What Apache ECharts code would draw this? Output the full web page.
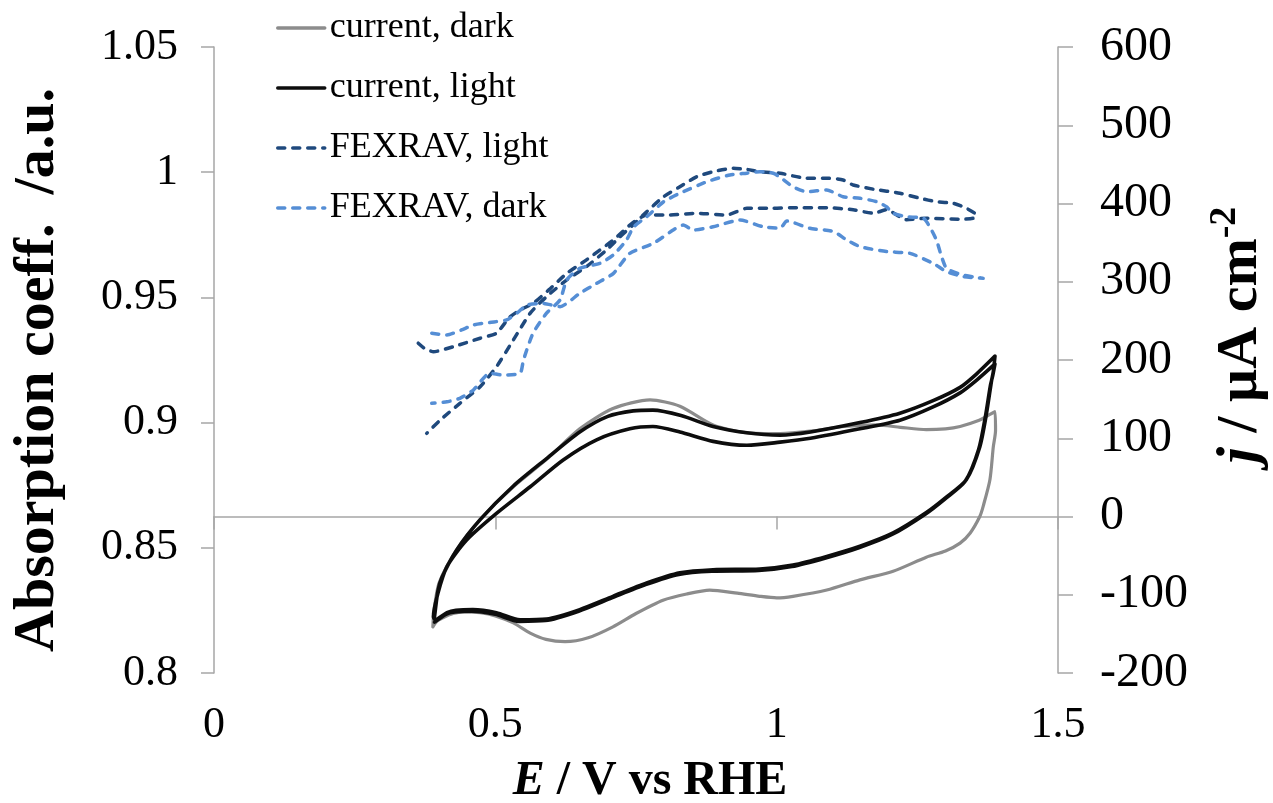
<!DOCTYPE html>
<html>
<head>
<meta charset="utf-8">
<script src="https://cdn.jsdelivr.net/npm/echarts@6/dist/echarts.min.js"></script>
<style>
  html, body { margin: 0; padding: 0; background: #fff; }
  #chart { width: 1273px; height: 803px; }
</style>
</head>
<body>
<div id="chart"></div>
<script>
// Potential (V vs RHE) / current density (µA cm^-2) loops
const currentDark = [
  [0.389,-141],[0.391,-120],[0.400,-85],[0.431,-43],[0.473,-4],[0.532,38],[0.591,73],
  [0.650,112],[0.709,138],[0.775,149],[0.828,141],[0.887,117],[0.947,107],[1.006,106],
  [1.060,109],[1.120,115],[1.178,117],[1.220,114],[1.266,111],[1.300,112],[1.326,115],
  [1.360,123],[1.373,128],[1.388,134],
  [1.389,110],[1.385,89],[1.379,47],[1.367,13],[1.361,0],[1.344,-21],[1.326,-34],
  [1.300,-44],[1.266,-52],[1.207,-70],[1.148,-81],[1.089,-94],[1.029,-102],[1.000,-104],
  [0.970,-102],[0.930,-98],[0.881,-94],[0.840,-99],[0.798,-107],[0.750,-124],[0.709,-141],
  [0.665,-155],[0.624,-160],[0.590,-157],[0.562,-149],[0.532,-136],[0.500,-127],[0.473,-123],
  [0.445,-122],[0.425,-124],[0.405,-130],[0.396,-134],[0.389,-141]
];

const currentLight = [
  // first anodic sweep
  [0.392,-128],[0.398,-95],[0.405,-78],[0.431,-43],[0.473,-4],[0.532,39],[0.591,74],
  [0.650,108],[0.700,128],[0.745,135],[0.780,136],[0.830,129],[0.887,115],[0.947,107],
  [1.006,104],[1.060,108],[1.148,120],[1.219,132],[1.278,148],[1.326,165],[1.355,182],
  [1.388,205],
  // first cathodic sweep
  [1.385,185],[1.382,174],[1.373,132],[1.361,89],[1.337,47],[1.302,25],[1.266,5],
  [1.207,-21],[1.148,-38],[1.089,-51],[1.029,-62],[0.970,-67],[0.887,-68],[0.828,-72],
  [0.769,-85],[0.709,-102],[0.650,-119],[0.591,-131],[0.544,-132],[0.502,-123],[0.460,-119],
  [0.430,-120],[0.414,-123],[0.393,-132],[0.390,-128],
  // second anodic sweep
  [0.398,-98],[0.414,-64],[0.449,-30],[0.502,4],[0.562,38],[0.620,72],[0.680,98],
  [0.739,112],[0.780,115],[0.828,108],[0.887,96],[0.947,91],[1.006,95],[1.060,100],
  [1.148,112],[1.219,123],[1.278,140],[1.326,158],[1.355,174],[1.388,195],
  // second cathodic sweep
  [1.384,180],[1.380,168],[1.371,128],[1.359,86],[1.335,45],[1.300,23],[1.264,3],
  [1.205,-23],[1.146,-40],[1.087,-53],[1.027,-64],[0.968,-69],[0.885,-70],[0.826,-74],
  [0.767,-87],[0.707,-104],[0.648,-121],[0.589,-133],[0.542,-134],[0.500,-125],[0.458,-121],
  [0.428,-122],[0.412,-125],[0.392,-135]
];

// Absorption coefficient (a.u.) from fixed-energy X-ray absorption voltammetry
const fexravLight = [
  [0.363,0.9317],[0.375,0.9295],[0.390,0.9283],[0.425,0.9303],[0.473,0.9337],[0.502,0.9357],
  [0.525,0.9420],[0.544,0.9450],[0.567,0.9476],[0.595,0.9530],[0.627,0.9596],[0.662,0.9650],
  [0.710,0.9730],[0.745,0.9800],[0.769,0.9829],[0.810,0.9829],[0.858,0.9836],[0.911,0.9829],
  [0.947,0.9856],[0.994,0.9856],[1.029,0.9858],[1.089,0.9858],[1.136,0.9850],[1.172,0.9836],
  [1.195,0.9850],[1.231,0.9810],[1.266,0.9816],[1.326,0.9812],[1.349,0.9816],[1.355,0.9829],
  [1.337,0.9856],[1.314,0.9876],[1.284,0.9882],[1.255,0.9896],[1.219,0.9916],[1.172,0.9932],
  [1.136,0.9949],[1.118,0.9969],[1.089,0.9976],[1.053,0.9976],[1.006,0.9996],[0.970,1.0002],
  [0.947,1.0011],[0.923,1.0016],[0.887,1.0002],[0.858,0.9982],[0.828,0.9942],[0.799,0.9902],
  [0.769,0.9842],[0.745,0.9790],[0.722,0.9743],[0.698,0.9690],[0.662,0.9623],[0.627,0.9570],
  [0.591,0.9503],[0.562,0.9437],[0.532,0.9330],[0.502,0.9223],[0.473,0.9143],[0.437,0.9077],
  [0.402,0.9010],[0.378,0.8957]
];

const fexravDark = [
  [0.387,0.9357],[0.414,0.9350],[0.440,0.9370],[0.461,0.9390],[0.490,0.9400],[0.520,0.9410],
  [0.540,0.9440],[0.556,0.9470],[0.585,0.9476],[0.615,0.9463],[0.650,0.9516],[0.680,0.9556],
  [0.710,0.9596],[0.739,0.9676],[0.781,0.9716],[0.816,0.9769],[0.834,0.9789],[0.852,0.9769],
  [0.887,0.9782],[0.935,0.9809],[0.976,0.9782],[1.006,0.9776],[1.018,0.9805],[1.059,0.9776],
  [1.101,0.9763],[1.124,0.9730],[1.148,0.9703],[1.195,0.9683],[1.237,0.9676],[1.278,0.9636],
  [1.302,0.9603],[1.332,0.9583],[1.367,0.9576],
  [1.330,0.9590],[1.302,0.9616],[1.293,0.9663],[1.284,0.9729],[1.272,0.9782],[1.261,0.9816],
  [1.231,0.9822],[1.207,0.9836],[1.195,0.9862],[1.178,0.9882],[1.148,0.9896],[1.118,0.9902],
  [1.089,0.9929],[1.053,0.9922],[1.029,0.9942],[1.006,0.9980],[0.994,0.9996],[0.970,1.0002],
  [0.947,0.9996],[0.917,0.9989],[0.876,0.9962],[0.828,0.9916],[0.799,0.9882],[0.769,0.9822],
  [0.746,0.9782],[0.733,0.9729],[0.710,0.9670],[0.686,0.9636],[0.650,0.9616],[0.627,0.9570],
  [0.615,0.9490],[0.591,0.9437],[0.567,0.9357],[0.550,0.9250],[0.544,0.9197],[0.514,0.9190],
  [0.490,0.9197],[0.461,0.9130],[0.437,0.9097],[0.414,0.9083],[0.387,0.9077]
];

const seriesNames = ['current, dark', 'current, light', 'FEXRAV, light', 'FEXRAV, dark'];
const seriesColors = ['#8c8c8c', '#0d0d0d', '#1f497d', '#558ed5'];

const xTicks = { min: 0, max: 1.5, interval: 0.5 };
const leftTicks = { min: 0.8, max: 1.05, interval: 0.05 };
const rightTicks = { min: -200, max: 600, interval: 100 };

const AXIS_GREY = '#a6a6a6';
const SERIF = '"Liberation Serif", "Times New Roman", serif';

const chart = echarts.init(document.getElementById('chart'), null, { renderer: 'canvas' });

function cvSeries(idx, data, width) {
  return {
    name: seriesNames[idx], type: 'line', data: data,
    xAxisIndex: 0, yAxisIndex: 1,
    symbol: 'none', smooth: 0.25, animation: false,
    lineStyle: { color: seriesColors[idx], width: width, cap: 'round', join: 'round' },
    itemStyle: { color: seriesColors[idx] }
  };
}
function xasSeries(idx, data) {
  return {
    name: seriesNames[idx], type: 'line', data: data,
    xAxisIndex: 0, yAxisIndex: 0,
    symbol: 'none', smooth: 0.2, animation: false,
    lineStyle: { color: seriesColors[idx], width: 3.5, type: [7, 8], cap: 'round', join: 'round' },
    itemStyle: { color: seriesColors[idx] }
  };
}

chart.setOption({
  animation: false,
  backgroundColor: '#fff',
  grid: { left: 214, right: 215, top: 47, bottom: 130, containLabel: false, outerBoundsMode: 'none' },
  legend: {
    orient: 'vertical', left: 271, top: 3,
    itemWidth: 47, itemHeight: 14, itemGap: 20,
    data: seriesNames,
    itemStyle: { opacity: 0 },
    lineStyle: { width: 3.5 },
    textStyle: { fontFamily: SERIF, fontSize: 36, color: '#000', lineHeight: 40 }
  },
  xAxis: [
    {
      type: 'value', position: 'bottom', min: xTicks.min, max: xTicks.max, interval: xTicks.interval,
      axisLine: { show: false }, axisTick: { show: false }, splitLine: { show: false },
      axisLabel: { fontFamily: SERIF, fontSize: 44, color: '#000', margin: 30 }
    },
    {
      type: 'value', position: 'bottom', min: xTicks.min, max: xTicks.max, interval: xTicks.interval,
      axisLine: { show: true, onZero: true, onZeroAxisIndex: 1, lineStyle: { color: AXIS_GREY, width: 1.5 } },
      axisTick: { show: true, length: 13, lineStyle: { color: AXIS_GREY, width: 1.5 } },
      axisLabel: { show: false }, splitLine: { show: false }
    }
  ],
  yAxis: [
    {
      type: 'value', position: 'left', min: leftTicks.min, max: leftTicks.max, interval: leftTicks.interval,
      axisLine: { show: true, onZero: false, lineStyle: { color: AXIS_GREY, width: 1.5 } },
      axisTick: { show: true, length: 13, lineStyle: { color: AXIS_GREY, width: 1.5 } },
      splitLine: { show: false },
      axisLabel: { fontFamily: SERIF, fontSize: 44, color: '#000', margin: 36,
        formatter: v => String(+v.toFixed(2)) }
    },
    {
      type: 'value', position: 'right', min: rightTicks.min, max: rightTicks.max, interval: rightTicks.interval,
      axisLine: { show: true, onZero: false, lineStyle: { color: AXIS_GREY, width: 1.5 } },
      axisTick: { show: true, length: 15, lineStyle: { color: AXIS_GREY, width: 1.5 } },
      splitLine: { show: false },
      axisLabel: { fontFamily: SERIF, fontSize: 48, color: '#000', margin: 42 }
    }
  ],
  series: [
    cvSeries(0, currentDark, 3.2),
    cvSeries(1, currentLight, 3.6),
    xasSeries(2, fexravLight),
    xasSeries(3, fexravDark)
  ],
  graphic: [
    {
      type: 'text', x: 38, y: 370, rotation: Math.PI / 2,
      style: {
        text: 'Absorption coeff.  /a.u.', fill: '#000',
        font: 'bold 58px ' + SERIF, align: 'center', verticalAlign: 'middle'
      }
    },
    {
      type: 'text', x: 1241, y: 335, rotation: Math.PI / 2,
      style: {
        text: '{i|j}{b| / µA cm}{s|-2}', fill: '#000', align: 'center', verticalAlign: 'middle',
        rich: {
          i: { fontFamily: SERIF, fontSize: 58, fontWeight: 'bold', fontStyle: 'italic', lineHeight: 70, fill: '#000' },
          b: { fontFamily: SERIF, fontSize: 58, fontWeight: 'bold', lineHeight: 70, fill: '#000' },
          s: { fontFamily: SERIF, fontSize: 38, fontWeight: 'bold', lineHeight: 38, verticalAlign: 'top', fill: '#000' }
        }
      }
    },
    {
      type: 'text', x: 650, y: 782,
      style: {
        text: '{i|E}{b| / V vs RHE}', fill: '#000', align: 'center', verticalAlign: 'middle',
        rich: {
          i: { fontFamily: SERIF, fontSize: 48, fontWeight: 'bold', fontStyle: 'italic', fill: '#000' },
          b: { fontFamily: SERIF, fontSize: 48, fontWeight: 'bold', fill: '#000' }
        }
      }
    }
  ]
});
</script>
</body>
</html>
